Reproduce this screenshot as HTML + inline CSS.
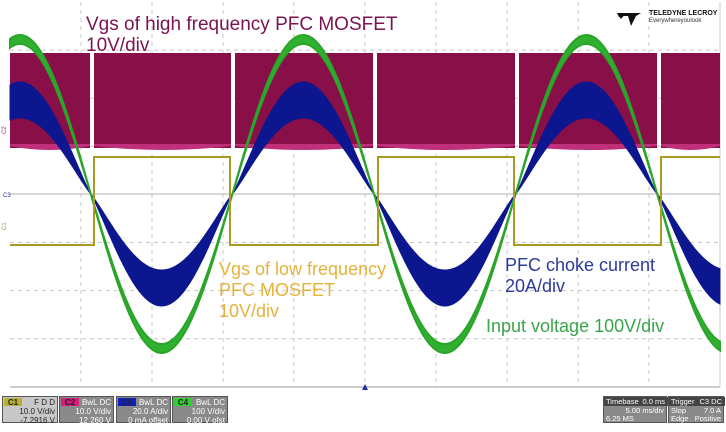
<!DOCTYPE html>
<html><head><meta charset="utf-8"><style>
html,body{margin:0;padding:0;background:#fff;}
body{width:726px;height:424px;overflow:hidden;position:relative;font-family:"Liberation Sans",sans-serif;}
svg{position:absolute;left:0;top:0;}
.box{position:absolute;top:396px;height:27px;background:#8a8a8a;border:1px solid #555;font-size:8px;color:#fff;line-height:9px;box-sizing:border-box;}
.box .t{position:absolute;left:1px;top:1px;width:18px;height:8px;font-weight:bold;font-size:8px;text-align:center;color:#222;}
.box .r{position:absolute;right:2px;top:1px;text-align:right;}
</style></head><body>
<svg id="s" width="726" height="424" viewBox="0 0 726 424">
<rect x="0" y="0" width="726" height="424" fill="#fff"/>
<g id="grid" stroke="#c8c8c8" stroke-width="1" stroke-dasharray="4,4"></g>
<line x1="10" y1="194" x2="720" y2="194" stroke="#b0b0b0" stroke-width="1"/>
<line x1="10" y1="387" x2="720" y2="387" stroke="#999" stroke-width="1"/>
<line x1="720" y1="2" x2="720" y2="387" stroke="#ccc" stroke-width="1"/>
<g id="mag"></g>
<path id="blue" fill="#0c168e" stroke="#0c168e" stroke-width="1"/>
<path id="green" fill="#2fb02f" stroke="#2aa52a" stroke-width="2"/>
<path id="yel" fill="none" stroke="#a89a22" stroke-width="2"/>
<text x="86" y="30" font-size="19" fill="#7a1450" font-family="Liberation Sans">Vgs of high frequency PFC MOSFET</text>
<text x="86" y="51" font-size="19" fill="#7a1450" font-family="Liberation Sans">10V/div</text>
<text x="219" y="275" font-size="18" fill="#e6b23c" font-family="Liberation Sans">Vgs of low frequency</text>
<text x="219" y="296" font-size="18" fill="#e6b23c" font-family="Liberation Sans">PFC MOSFET</text>
<text x="219" y="317" font-size="18" fill="#e6b23c" font-family="Liberation Sans">10V/div</text>
<text x="505" y="271" font-size="18" fill="#2c3a9a" font-family="Liberation Sans">PFC choke current</text>
<text x="505" y="292" font-size="18" fill="#2c3a9a" font-family="Liberation Sans">20A/div</text>
<text x="486" y="332" font-size="18" fill="#3aa54a" font-family="Liberation Sans">Input voltage 100V/div</text>
<text x="6" y="134" font-size="6" fill="#a03070" transform="rotate(-90 6 134)">C2</text>
<text x="3" y="197" font-size="6" fill="#2030a0">C3</text>
<text x="6" y="230" font-size="6" fill="#a0a030" transform="rotate(-90 6 230)">C1</text>
<polygon points="365,384 362,390 368,390" fill="#2030a0"/>
<polygon points="617,13 641,13 636,16 631,26 628,16 624,16 619,17" fill="#111"/>
<polygon points="617,13 626,13 621,19" fill="#111"/>
<text x="649" y="15" font-size="7" font-weight="bold" fill="#111">TELEDYNE LECROY</text>
<text x="649" y="22" font-size="6" fill="#333">Everywhereyoulook</text>
</svg>
<div class="box" style="left:2px;width:56px;background:#c8c8c8;color:#222"><div class="t" style="background:#b8b030">C1</div><div class="r">F D D<br>10.0 V/div<br>-7.2916 V</div></div>
<div class="box" style="left:59px;width:55px"><div class="t" style="background:#d0207a">C2</div><div class="r">BwL DC<br>10.0 V/div<br>12.260 V</div></div>
<div class="box" style="left:116px;width:55px"><div class="t" style="background:#1020c0">C3</div><div class="r">BwL DC<br>20.0 A/div<br>0 mA offset</div></div>
<div class="box" style="left:172px;width:56px"><div class="t" style="background:#30d030">C4</div><div class="r">BwL DC<br>100 V/div<br>0.00 V ofst</div></div>
<div class="box" style="left:603px;width:64px;font-size:7.5px"><div style="position:absolute;left:0;top:0;width:62px;height:9px;background:#444;padding-left:2px">Timebase <span style="float:right;margin-right:3px">0.0 ms</span></div><div style="position:absolute;right:2px;top:9px">5.00 ms/div</div><div style="position:absolute;left:2px;right:2px;top:17px">6.25 MS <span style="float:right">125 MS/s</span></div></div>
<div class="box" style="left:668px;width:56px;font-size:7.5px"><div style="position:absolute;left:0;top:0;width:54px;height:9px;background:#444;padding-left:2px">Trigger <span style="float:right;margin-right:3px">C3 DC</span></div><div style="position:absolute;left:2px;right:2px;top:9px">Slop<span style="float:right">7.0 A</span></div><div style="position:absolute;left:2px;right:2px;top:17px">Edge<span style="float:right">Positive</span></div></div>
<script>
var NS="http://www.w3.org/2000/svg";
var g=document.getElementById('grid');
function ln(x1,y1,x2,y2){var l=document.createElementNS(NS,'line');l.setAttribute('x1',x1);l.setAttribute('y1',y1);l.setAttribute('x2',x2);l.setAttribute('y2',y2);g.appendChild(l);}
for(var i=1;i<10;i++){ln(10+71*i,2,10+71*i,387);}
for(var j=1;j<8;j++){if(j!=4)ln(10,2+48.1*j,720,2+48.1*j);}
var P=283.2,X0=20;
function c(x){return Math.cos(2*Math.PI*(x-X0)/P);}
function band(ao,ai,shape){var top=[],bot=[];for(var x=10;x<=720;x+=1){var v=c(x);var s=shape?Math.sign(v)*Math.pow(Math.abs(v),1.1):v;top.push(x+','+(194-ao*s).toFixed(1));bot.push(x+','+(194-ai*s).toFixed(1));}return 'M'+top.join('L')+'L'+bot.reverse().join('L')+'Z';}
document.getElementById('green').setAttribute('d',band(159,150,false));
document.getElementById('blue').setAttribute('d',band(112,76,true));
var m=document.getElementById('mag');
var sw=[90,231,373,515,657];
var edges=[10].concat(sw).concat([720]);
for(var k=0;k<edges.length-1;k++){var a=edges[k]+(k?4:0),b=edges[k+1];
var r=document.createElementNS(NS,'rect');r.setAttribute('x',a);r.setAttribute('y',53);r.setAttribute('width',b-a);r.setAttribute('height',95);r.setAttribute('fill','#880f48');m.appendChild(r);
var p=document.createElementNS(NS,'path');var mid=(a+b)/2;p.setAttribute('d','M'+a+',146 Q'+mid+',154 '+b+',146 L'+b+',144 L'+a+',144Z');p.setAttribute('fill','#c0307a');m.appendChild(p);}
var lo=245,hi=157;
var yedges=[94,230,378,514,661];
var d='M10,'+lo;var st=lo;
for(var k=0;k<yedges.length;k++){var x=yedges[k];d+='L'+x+','+st;st=(st==lo?hi:lo);d+='L'+x+','+st;}
d+='L720,'+st;document.getElementById('yel').setAttribute('d',d);
</script>
</body></html>
